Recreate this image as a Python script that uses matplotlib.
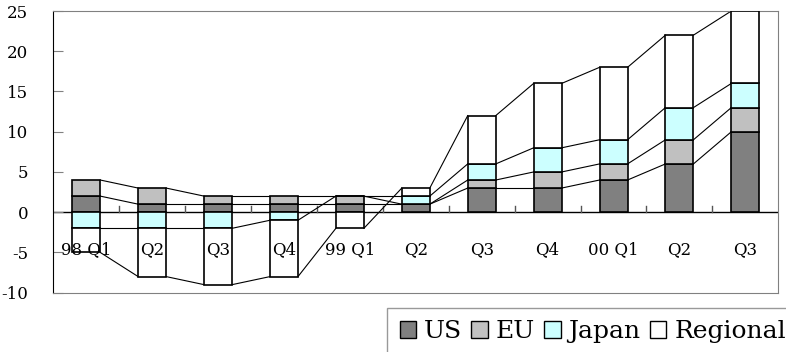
import numpy as np
import matplotlib
matplotlib.use("Agg")
import matplotlib.pyplot as plt
from matplotlib.patches import Patch

# quarterly contributions
quarters = ["98 Q1", "Q2", "Q3", "Q4", "99 Q1", "Q2", "Q3", "Q4", "00 Q1", "Q2", "Q3"]
us = [2, 1, 1, 1, 1, 1, 3, 3, 4, 6, 10]
eu = [2, 2, 1, 1, 1, 0, 1, 2, 2, 3, 3]
japan = [-2, -2, -2, -1, 0, 1, 2, 3, 3, 4, 3]
regional = [-3, -6, -7, -7, -2, 1, 6, 8, 9, 9, 9]

series = [("US", us, "#808080"), ("EU", eu, "#C0C0C0"),
          ("Japan", japan, "#CCFFFF"), ("Regional", regional, "#FFFFFF")]

plt.rcParams["font.family"] = "DejaVu Serif"
plt.rcParams["axes.unicode_minus"] = False

fig = plt.figure(figsize=(7.86, 3.52), dpi=100)
ax = fig.add_axes([53.3 / 786, 1 - 292.7 / 352, 725 / 786, 281.7 / 352])

x = np.arange(len(quarters))
w = 0.425
pos = np.zeros(len(x))
neg = np.zeros(len(x))
ends = []
for name, vals, col in series:
    v = np.array(vals, dtype=float)
    bottom = np.where(v >= 0, pos, neg)
    ax.bar(x, v, w, bottom=bottom, color=col, edgecolor="black", linewidth=1.2, zorder=3)
    pos = np.where(v >= 0, pos + v, pos)
    neg = np.where(v < 0, neg + v, neg)
    ends.append(np.where(v >= 0, pos, neg))

# series lines between neighbouring bars
for e in ends:
    for i in range(len(x) - 1):
        ax.plot([x[i] + w / 2, x[i + 1] - w / 2], [e[i], e[i + 1]],
                color="black", linewidth=0.8, zorder=2)

ax.axhline(0, color="black", linewidth=1, zorder=1)
for k in range(len(x) - 1):
    ax.plot([k + 0.5, k + 0.5], [0, 0.75], color="#555555", linewidth=1, zorder=1)

# category labels sit below the bars
for xi, q in zip(x, quarters):
    ax.text(xi, -4.6, q, ha="center", va="center", fontsize=12, zorder=4)

ax.set_xlim(-0.5, len(x) - 0.5)
ax.set_ylim(-10, 25)
ax.set_xticks([])
ax.set_yticks(range(-10, 26, 5))
ax.tick_params(axis="y", direction="in", length=7, color="#808080", pad=18, labelsize=12)
for t in ax.get_yticklabels():
    t.set_horizontalalignment("right")
for s in ["top", "right", "bottom"]:
    ax.spines[s].set_color("#808080")
ax.spines["left"].set_color("black")

handles = [Patch(facecolor=c, edgecolor="black", linewidth=1) for _, _, c in series]
leg = fig.legend(handles, [n for n, _, _ in series], loc="upper left",
                 bbox_to_anchor=(387 / 786, 1 - 307.7 / 352), ncol=4, fontsize=18,
                 handlelength=0.66, handleheight=0.68, handletextpad=0.32,
                 columnspacing=0.36, borderpad=0.5, borderaxespad=0, fancybox=False)
leg.get_frame().set_edgecolor("#808080")
leg.get_frame().set_linewidth(1)

fig.savefig("out.png", dpi=100)
